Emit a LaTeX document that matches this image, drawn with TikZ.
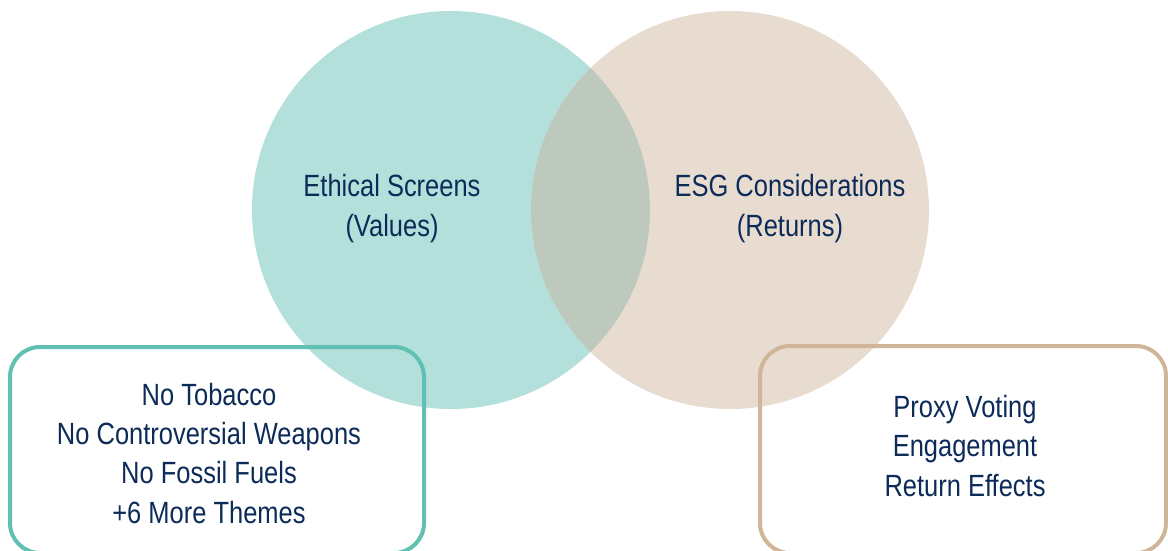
\documentclass[tikz,border=0pt]{standalone}
\usepackage{fontspec}
\setmainfont{Liberation Sans}[FakeStretch=0.83]
\definecolor{tealfill}{HTML}{B3E0DB}
\definecolor{tanfill}{HTML}{E8DCD0}
\definecolor{overlapfill}{HTML}{BEC9BD}
\definecolor{tealline}{HTML}{60C0B3}
\definecolor{tanline}{HTML}{D0B699}
\definecolor{navy}{HTML}{0D2B58}
\tikzset{
  label text/.style={text=navy, align=center, inner sep=0pt, anchor=base,
    font=\fontsize{30.7}{39.3}\selectfont},
  boxline/.style={line width=4pt, rounded corners=30pt},
}
\begin{document}
\begin{tikzpicture}[x=1pt,y=-1pt]
\useasboundingbox (0,0) rectangle (1168,551);
% circles
\fill[tealfill] (451,210) circle[radius=199];
\fill[tanfill] (730,210) circle[radius=199];
\begin{scope}
  \clip (451,210) circle[radius=199];
  \fill[overlapfill] (730,210) circle[radius=199];
\end{scope}
% boxes
\draw[boxline, tealline] (10,347) rectangle (424,553);
\draw[boxline, tanline] (760,346) rectangle (1166,553);
% texts (anchor base = baseline of the last line)
\node[label text] (ethical) at (392,236) {Ethical Screens\\(Values)};
\node[label text] (esg) at (790,236) {ESG Considerations\\(Returns)};
\node[label text] (screens) at (209,523) {No Tobacco\\No Controversial Weapons\\No Fossil Fuels\\+6 More Themes};
\node[label text] (esgitems) at (965,496) {Proxy Voting\\Engagement\\Return Effects};
\end{tikzpicture}
\end{document}
